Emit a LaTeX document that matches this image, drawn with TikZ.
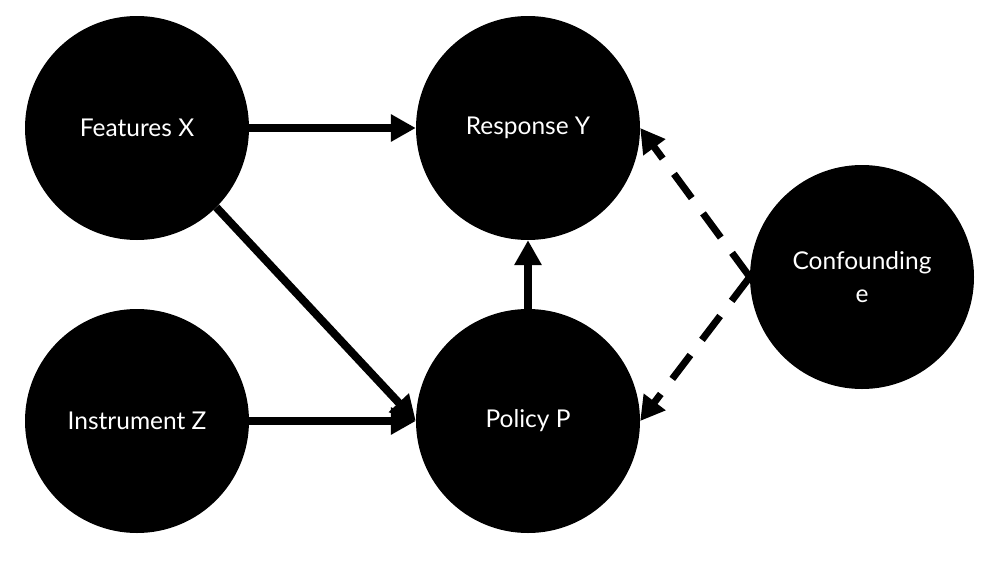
\documentclass[tikz,border=0pt]{standalone}
\usepackage{fontspec}
\setmainfont{Lato}
\usetikzlibrary{arrows.meta}
\begin{document}
\begin{tikzpicture}[x=1pt,y=-1pt,
  var/.style={circle,fill=black,text=white,minimum size=224pt,inner sep=0pt,font=\fontsize{24.5}{33}\selectfont,align=center},
  edge/.style={line width=8pt,-{Triangle[length=25pt,width=26pt]}},
  conf/.style={line width=7pt,dash pattern=on 30pt off 19pt,-{Triangle[length=24pt,width=26pt]}}]
\useasboundingbox (0,0) rectangle (996,560);
\node[var] (X) at (137,128) {Features X};
\node[var] (Y) at (528,128) {Response Y};
\node[var] (Z) at (137,421) {Instrument Z};
\node[var] (P) at (528,421) {Policy P};
\node[var] (E) at (862,277) {Confounding\\e};
\draw[edge] (X) -- (Y);
\draw[edge] (X.south east) -- (P.west);
\draw[edge] (Z) -- (P);
\draw[edge] (P) -- (Y);
\draw[conf] (E.west) -- (Y.east);
\draw[conf] (E.west) -- (P.east);
\end{tikzpicture}
\end{document}
